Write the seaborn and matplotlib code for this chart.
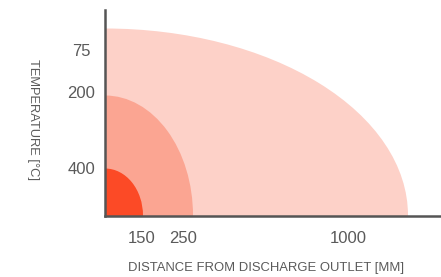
import matplotlib
matplotlib.use("Agg")
import matplotlib.pyplot as plt
from matplotlib.patches import Ellipse
import seaborn as sns

# zones, largest first (reach along the floor and height, in plot units)
zone_reach = [303, 88, 38]
zone_height = [187, 120, 47]
zone_colors = ["#fdd1c8", "#fba592", "#fc4a26"]

x_ticks = [37, 78, 243]
x_labels = ["150", "250", "1000"]
y_ticks = [47.5, 123.5, 165.5]
y_labels = ["400", "200", "75"]

sns.set_style("white")
plt.rcParams["font.family"] = ["Liberation Sans", "DejaVu Sans"]

fig = plt.figure(figsize=(4.41, 2.77), dpi=100)
ax = fig.add_axes([105 / 441, 61.5 / 277, 336 / 441, 205.5 / 277])

for rx, ry, c in zip(zone_reach, zone_height, zone_colors):
    ax.add_patch(Ellipse((0, 0), 2 * rx, 2 * ry, facecolor=c, edgecolor="none"))

ax.set_xlim(0, 336)
ax.set_ylim(0, 205.5)

for side in ["top", "right"]:
    ax.spines[side].set_visible(False)
for side in ["left", "bottom"]:
    ax.spines[side].set_color("#555555")
    ax.spines[side].set_linewidth(1.8)
    ax.spines[side].set_zorder(5)

ax.set_xticks(x_ticks)
ax.set_xticklabels(x_labels)
ax.set_yticks(y_ticks)
ax.set_yticklabels(y_labels, ha="center")
ax.tick_params(axis="both", length=0, labelsize=12, colors="#5a5a5a")
ax.tick_params(axis="x", pad=11)
ax.tick_params(axis="y", pad=17)

ax.set_xlabel("DISTANCE FROM DISCHARGE OUTLET [MM]", fontsize=9.4, color="#5a5a5a")
ax.set_ylabel("TEMPERATURE [°C]", fontsize=9.3, color="#5a5a5a", rotation=-90)
ax.yaxis.set_label_coords(-72 / 336, 0.465)
ax.xaxis.set_label_coords(160.5 / 336, -52.5 / 205.5)
ax.xaxis.label.set_va("center")
ax.yaxis.label.set_va("center")

fig.savefig("out.png", dpi=100)
